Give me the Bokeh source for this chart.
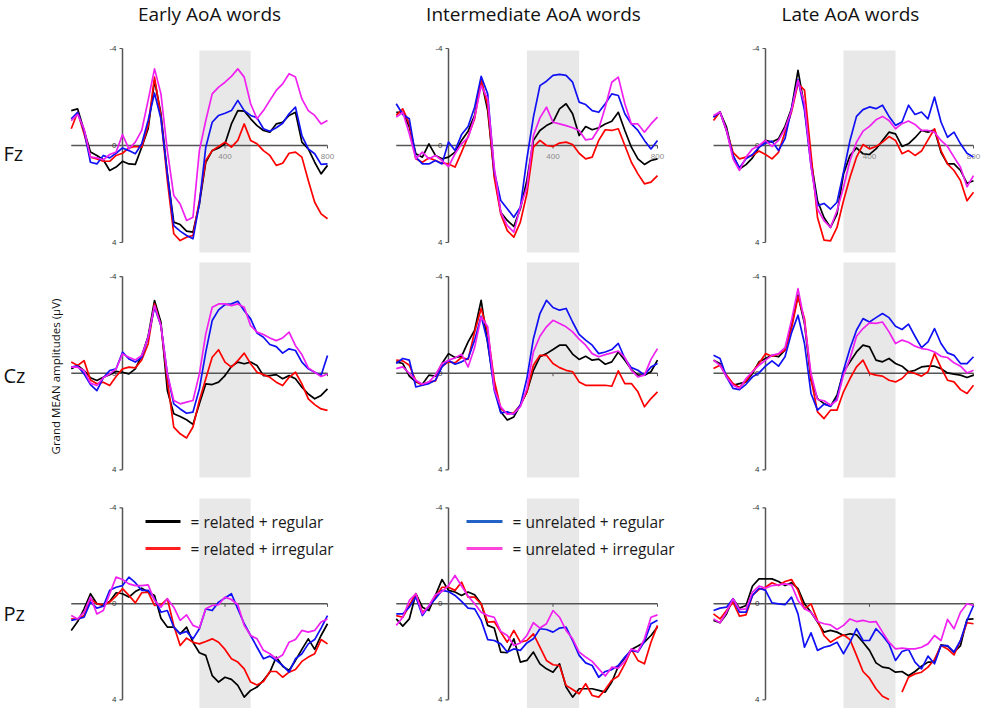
import numpy as np
from bokeh.plotting import figure
from bokeh.layouts import column, row
from bokeh.models import Range1d
from bokeh.core.properties import value
from bokeh.embed import file_html
from bokeh.resources import INLINE

# ---------------- data ----------------
TIME_MS = [-200, -175, -150, -125, -100, -75, -50, -25, 0, 25, 50, 75, 100, 125, 150,
           175, 200, 225, 250, 275, 300, 325, 350, 375, 400, 425, 450, 475, 500, 525,
           550, 575, 600, 625, 650, 675, 700, 725, 750, 775, 800]

COLUMN_TITLES = ["Early AoA words", "Intermediate AoA words", "Late AoA words"]
ROW_LABELS = ["Fz", "Cz", "Pz"]
CONDITIONS = ["related + regular", "related + irregular",
              "unrelated + regular", "unrelated + irregular"]
Y_TICKS = [-4, 0, 4]
Y_TICK_LABELS = ["-4", "0", "4"]
X_TICKS = [400, 800]
X_TICK_LABELS = ["400", "800"]
WINDOW_MS = [300, 500]
Y_LABEL = "Grand MEAN amplitudes (µV)"

# Fz
FZ_EARLY_RR = [-1.44, -1.51, -0.62, 0.27, 0.41, 0.59, 1.03, 0.89, 0.65, 0.76, 0.78, 0.07, -0.69, -2.68, -1.31, 1.17, 3.16, 3.26, 3.53, 3.57, 2.41, 0.69, 0.21, 0.10, -0.07, -0.89, -1.44, -1.42, -1.10, -0.82, -0.62, -0.55, -0.89, -0.96, -1.24, -1.37, -0.14, 0.14, 0.69, 1.17, 0.82]
FZ_EARLY_RI = [-0.69, -1.37, -0.48, 0.48, 0.55, 0.65, 0.65, 0.41, 0.32, 0.10, 0.04, 0.07, -0.82, -2.82, -1.17, 1.44, 3.64, 3.92, 3.78, 3.71, 2.27, 0.62, 0.21, 0.04, -0.14, 0.07, -0.21, -0.89, -0.21, -0.07, 0.21, 0.41, 0.82, 0.73, 0.32, 0.27, 0.48, 1.44, 2.34, 2.82, 3.02]
FZ_EARLY_UR = [-1.10, -1.37, -0.62, 0.69, 0.76, 0.41, 0.51, 0.32, 0.10, 0.21, 0.34, -0.07, -1.03, -2.16, -1.10, 1.17, 3.30, 3.53, 3.71, 3.85, 2.41, 0.07, -0.96, -1.24, -1.33, -1.44, -1.86, -1.44, -1.24, -1.14, -0.69, -0.59, -0.73, -0.92, -1.31, -1.58, -0.41, 0.14, 0.34, 0.78, 0.76]
FZ_EARLY_UI = [-1.03, -1.28, -0.69, 0.48, 0.51, 0.59, 0.37, 0.27, -0.45, 0.14, -0.14, -0.62, -1.86, -3.16, -2.13, 0.21, 2.06, 2.41, 3.09, 2.96, 0.21, -1.03, -2.13, -2.41, -2.61, -2.85, -3.16, -2.82, -1.72, -1.10, -1.44, -1.86, -2.27, -2.54, -2.96, -2.82, -1.92, -1.44, -1.24, -0.89, -1.03]

FZ_INTER_RR = [-1.37, -1.37, -0.76, 0.34, 0.48, -0.07, 0.41, 0.55, 0.48, 0.27, -0.21, -0.59, -1.24, -2.71, -1.44, 1.17, 2.75, 3.09, 3.34, 2.61, 1.44, -0.21, -0.62, -0.82, -0.96, -1.51, -1.72, -1.31, -0.41, -0.78, -0.65, -0.73, -0.89, -1.00, -1.37, -0.62, 0.07, 0.55, 0.78, 0.62, 0.55]
FZ_INTER_RI = [-1.24, -1.51, -0.89, 0.55, 0.69, 0.51, 0.62, 0.73, 0.76, 0.89, 0.27, -0.37, -1.10, -2.71, -1.65, 1.31, 2.82, 3.51, 3.78, 3.16, 1.99, 0.07, -0.21, 0.00, 0.04, -0.10, -0.14, -0.04, 0.32, 0.55, 0.48, -0.21, -0.65, -0.62, -0.69, 0.00, 0.69, 1.17, 1.58, 1.51, 1.24]
FZ_INTER_UR = [-1.72, -1.28, -1.10, 0.48, 0.76, 0.76, 0.62, 0.76, -0.14, 0.21, -0.45, -0.78, -1.58, -2.85, -2.13, 1.06, 2.27, 2.61, 2.96, 2.54, 0.55, -1.17, -2.47, -2.65, -2.89, -2.93, -2.89, -2.61, -1.79, -1.69, -1.44, -1.37, -1.72, -2.13, -2.06, -1.31, -0.89, -0.62, -0.21, 0.14, -0.21]
FZ_INTER_UI = [-1.17, -1.37, -0.48, 0.55, 0.27, 0.55, 0.41, 0.62, 0.87, 0.34, -0.07, -0.32, -1.17, -2.47, -1.92, 0.89, 2.75, 3.30, 3.57, 2.54, 1.72, -0.41, -1.14, -1.58, -0.96, -0.89, -0.82, -0.73, -0.62, -0.23, -0.27, -0.69, -1.58, -2.61, -2.82, -1.72, -0.89, -0.89, -0.55, -0.89, -1.17]

FZ_LATE_RR = [-1.17, -1.38, -0.76, 0.41, 0.97, 0.79, 0.51, 0.07, -0.21, -0.14, -0.28, -0.79, -1.52, -3.10, -1.59, 0.62, 2.28, 2.97, 3.38, 2.83, 1.17, 0.41, 0.10, 0.34, 0.37, 0.14, -0.21, -0.55, -0.48, 0.04, -0.07, -0.32, -0.62, -0.55, -0.65, 0.28, 0.76, 0.76, 1.03, 1.56, 1.45]
FZ_LATE_RI = [-1.03, -1.38, -0.62, 0.28, 0.55, 0.48, 0.41, 0.23, 0.37, 0.55, 0.28, -0.55, -1.38, -2.55, -2.28, 0.34, 2.97, 3.90, 3.93, 3.38, 2.28, 1.31, 0.48, -0.04, 0.14, 0.04, -0.14, -0.37, -0.21, 0.34, 0.21, 0.41, 0.23, -0.23, -0.69, 0.21, 0.76, 1.03, 1.45, 2.28, 1.93]
FZ_LATE_UR = [-1.17, -1.38, -0.62, 0.41, 0.92, 0.55, 0.37, 0.07, -0.10, -0.18, 0.21, -0.28, -1.52, -2.72, -1.45, 0.83, 2.48, 2.39, 2.62, 2.34, 1.10, -0.21, -1.20, -1.48, -1.59, -1.52, -1.66, -1.20, -0.83, -0.97, -1.66, -1.28, -1.38, -1.10, -2.00, -0.97, -0.34, -0.55, -0.07, 0.32, 0.48]
FZ_LATE_UI = [-1.24, -1.38, -0.62, 0.55, 1.03, 0.48, 0.14, 0.00, -0.21, 0.04, -0.21, -0.69, -1.45, -2.69, -1.72, 0.83, 2.62, 3.10, 3.38, 2.69, 1.72, 0.62, -0.14, -0.59, -0.79, -1.06, -1.20, -1.03, -0.69, -0.90, -1.01, -0.87, -0.62, -0.62, -0.55, -0.21, 0.04, 0.48, 0.90, 1.70, 1.24]

# Cz
CZ_EARLY_RR = [-0.18, -0.32, -0.11, 0.19, 0.30, 0.17, 0.06, -0.08, -0.04, 0.03, -0.18, -0.73, -1.52, -3.01, -2.11, 0.72, 1.68, 1.79, 1.93, 2.12, 1.27, 0.44, 0.47, 0.37, 0.10, -0.28, -0.46, -0.39, -0.46, -0.32, 0.10, 0.10, 0.06, 0.23, 0.10, 0.23, 0.58, 0.86, 1.06, 0.92, 0.65]
CZ_EARLY_RI = [-0.46, -0.32, -0.52, 0.28, 0.44, 0.37, 0.51, 0.14, -0.18, -0.25, -0.22, -0.55, -1.21, -2.87, -1.97, 0.30, 2.23, 2.51, 2.68, 2.23, 1.13, 0.23, -0.66, -0.97, -0.46, -0.25, -0.52, -0.83, -0.39, -0.04, 0.06, 0.17, 0.37, 0.51, 0.17, -0.04, 0.44, 1.06, 1.30, 1.48, 1.54]
CZ_EARLY_UR = [-0.25, -0.30, 0.03, 0.47, 0.72, 0.19, -0.11, -0.18, -0.87, -0.59, -0.46, -0.66, -1.49, -2.73, -1.97, 0.03, 1.27, 1.48, 1.66, 1.61, 0.65, -0.87, -2.18, -2.62, -2.84, -2.87, -2.98, -2.59, -2.25, -1.66, -1.49, -1.19, -1.10, -0.83, -1.01, -0.94, -0.46, -0.18, -0.04, 0.10, -0.73]
CZ_EARLY_UI = [-0.25, -0.25, -0.11, 0.41, 0.51, 0.19, 0.03, -0.18, -0.80, -0.66, -0.55, -0.73, -1.49, -2.80, -1.97, 0.03, 1.13, 1.27, 1.20, 1.13, 0.03, -1.63, -2.73, -2.87, -2.87, -2.80, -2.87, -2.73, -1.97, -1.70, -1.60, -1.46, -1.35, -1.46, -1.70, -1.14, -0.77, -0.22, -0.04, 0.14, 0.03]

CZ_INTER_RR = [-0.47, -0.40, 0.12, 0.36, 0.46, 0.08, 0.12, -0.40, -0.81, -0.65, -0.70, -1.30, -1.78, -3.02, -1.23, 0.50, 1.60, 1.94, 1.81, 1.32, 0.77, -0.12, -0.68, -0.81, -0.98, -1.16, -1.16, -0.79, -0.57, -0.70, -0.54, -0.58, -0.37, -0.47, -0.88, -0.54, -0.15, 0.08, 0.08, -0.06, -0.54]
CZ_INTER_RI = [-0.54, -0.51, -0.33, 0.32, 0.50, 0.36, 0.32, -0.29, -0.47, -0.43, -0.65, -0.57, -1.71, -2.68, -1.71, 0.29, 1.46, 1.67, 1.64, 1.32, 0.77, -0.33, -0.74, -0.74, -0.40, -0.23, -0.12, -0.06, 0.36, 0.50, 0.50, 0.50, 0.50, 0.54, -0.10, 0.43, 0.43, 0.77, 1.39, 1.05, 0.77]
CZ_INTER_UR = [-0.40, -0.61, -0.54, 0.57, 0.50, 0.43, 0.29, -0.26, -0.54, -0.37, -0.47, -0.61, -1.37, -2.36, -1.30, 0.70, 1.64, 1.60, 1.70, 1.32, 0.22, -1.43, -2.47, -3.02, -2.72, -2.61, -2.68, -2.12, -1.61, -1.37, -1.16, -0.81, -0.88, -0.98, -1.23, -0.61, -0.23, -0.12, 0.08, -0.26, -0.40]
CZ_INTER_UI = [-0.19, -0.26, 0.01, 0.29, 0.46, 0.36, 0.08, -0.40, -0.54, -0.63, -0.79, -0.26, -1.06, -2.33, -1.92, 0.63, 1.39, 1.70, 1.67, 1.39, 0.63, -0.88, -1.53, -1.92, -2.19, -2.06, -1.92, -1.71, -1.41, -1.16, -0.81, -0.68, -0.77, -0.84, -0.92, -0.65, -0.12, 0.15, 0.08, -0.57, -1.02]

CZ_LATE_RR = [-0.54, -0.40, 0.15, 0.50, 0.43, 0.36, 0.01, -0.47, -0.61, -0.74, -0.68, -0.95, -1.99, -3.23, -2.06, 0.29, 1.05, 1.26, 1.37, 0.91, -0.06, -0.47, -0.88, -1.16, -1.09, -0.54, -0.47, -0.61, -0.40, -0.29, -0.06, -0.12, -0.26, -0.29, -0.29, -0.19, -0.01, 0.04, 0.08, 0.18, 0.08]
CZ_LATE_RI = [-0.19, -0.33, 0.08, 0.43, 0.59, 0.32, -0.06, -0.40, -0.81, -0.70, -0.79, -0.95, -1.85, -3.16, -2.26, 0.22, 1.60, 1.88, 1.53, 1.53, 0.77, 0.22, -0.26, -0.54, 0.01, 0.08, 0.12, 0.29, 0.36, 0.22, -0.06, 0.01, 0.12, -0.06, -0.81, -0.23, 0.29, 0.36, 0.68, 0.84, 0.50]
CZ_LATE_UR = [-0.74, -0.61, 0.15, 0.63, 0.68, 0.46, 0.15, -0.01, -0.29, -0.51, -0.29, -0.68, -1.67, -2.40, -1.23, 0.84, 1.53, 1.28, 1.37, 1.05, -0.12, -1.02, -1.78, -2.26, -2.12, -2.30, -2.47, -2.30, -1.94, -1.81, -2.03, -1.53, -1.06, -1.30, -1.85, -1.23, -0.84, -0.74, -0.40, -0.40, -0.68]
CZ_LATE_UI = [-0.54, -0.33, 0.15, 0.50, 0.63, 0.22, -0.06, -0.33, -0.54, -0.74, -0.81, -1.06, -2.19, -3.50, -2.12, 0.01, 1.09, 1.14, 1.32, 1.12, 0.08, -0.61, -1.53, -1.85, -2.08, -2.06, -2.12, -1.71, -1.23, -1.37, -1.28, -1.12, -1.02, -0.98, -0.88, -0.70, -0.65, -0.43, -0.29, -0.01, -0.12]

# Pz
PZ_EARLY_RR = [1.11, 0.74, 0.21, -0.42, 0.00, 0.07, -0.10, -0.46, -0.42, -0.28, -0.51, -0.65, -0.49, -0.35, 0.60, 0.97, 0.97, 1.25, 0.97, 1.60, 2.04, 2.15, 2.99, 3.26, 3.06, 3.15, 3.40, 3.89, 3.61, 3.47, 3.19, 2.85, 2.22, 2.60, 2.78, 2.36, 1.90, 1.46, 1.90, 1.32, 0.83]
PZ_EARLY_RI = [0.63, 0.65, 0.49, -0.21, 0.00, 0.04, -0.07, -0.32, -0.63, -0.35, -0.04, -0.46, -0.49, 0.07, 0.04, -0.21, 0.90, 1.74, 1.43, 1.60, 1.67, 1.57, 1.46, 1.60, 1.90, 2.29, 2.43, 2.71, 3.26, 3.38, 3.24, 2.82, 2.82, 3.06, 2.85, 2.74, 2.40, 2.22, 2.08, 1.49, 1.67]
PZ_EARLY_UR = [0.69, 0.63, 0.56, -0.07, 0.18, 0.10, -0.56, -0.69, -0.76, -1.11, -0.88, -0.56, -0.56, -0.21, 0.35, 0.28, 0.97, 1.25, 1.15, 1.46, 1.04, 0.21, 0.28, -0.07, -0.24, -0.42, 0.21, 0.83, 1.32, 1.81, 2.29, 2.18, 2.36, 2.57, 2.85, 2.29, 2.08, 1.67, 1.49, 1.01, 0.49]
PZ_EARLY_UI = [0.49, 0.63, 0.35, -0.28, 0.42, 0.28, -0.42, -1.11, -1.01, -0.83, -0.76, -0.76, -0.79, -0.14, 0.14, -0.21, 0.14, 0.69, 0.46, 0.90, 1.01, 0.21, 0.07, 0.04, -0.28, -0.18, 0.04, 0.90, 1.32, 1.46, 1.94, 2.08, 2.29, 2.13, 1.60, 1.49, 1.11, 1.18, 1.11, 0.76, 0.63]

PZ_INTER_RR = [0.63, 0.93, 0.63, -0.42, 0.14, 0.28, -0.35, -1.01, -0.56, -0.49, -0.35, -0.49, -0.38, 0.00, 0.90, 1.01, 2.01, 2.04, 1.46, 2.43, 2.36, 2.01, 2.50, 2.71, 2.85, 2.50, 3.47, 3.89, 3.54, 3.54, 3.54, 3.61, 3.68, 3.26, 2.60, 2.26, 1.90, 1.76, 1.60, 1.32, 0.97]
PZ_INTER_RI = [0.49, 0.56, 0.07, -0.42, 0.35, 0.14, -0.28, -0.69, -0.69, -0.56, -0.90, -0.28, -0.28, 0.00, 0.76, 0.74, 1.18, 1.60, 1.11, 1.60, 1.53, 1.25, 1.81, 2.36, 2.54, 2.57, 3.40, 3.57, 3.75, 3.33, 3.82, 3.89, 3.57, 3.19, 3.01, 2.50, 1.90, 2.36, 2.50, 1.60, 0.90]
PZ_INTER_UR = [0.42, 0.42, 0.14, -0.28, 0.49, 0.10, -0.21, -0.56, -0.51, -0.35, -0.10, 0.18, 0.21, 0.69, 1.49, 1.53, 1.67, 2.01, 1.88, 1.94, 1.63, 1.46, 1.04, 1.07, 1.18, 1.01, 0.97, 1.53, 2.15, 2.46, 2.57, 3.06, 2.82, 2.74, 2.57, 2.22, 1.94, 2.01, 1.57, 0.83, 0.69]
PZ_INTER_UI = [0.90, 0.56, -0.14, -0.42, 0.42, 0.07, -0.38, -0.51, -0.76, -1.18, -0.74, -0.32, 0.00, 0.35, 0.49, 0.56, 1.15, 1.32, 1.74, 1.63, 1.32, 0.79, 1.01, 0.83, 0.28, 0.56, 1.11, 1.46, 2.01, 2.22, 2.40, 2.71, 3.01, 2.64, 2.68, 2.40, 1.88, 1.99, 1.46, 0.56, 0.46]

PZ_LATE_RR = [0.69, 0.79, 0.42, -0.21, 0.18, 0.07, -0.74, -1.04, -1.04, -1.04, -0.93, -0.76, -0.88, -0.63, 0.00, 0.35, 0.76, 1.18, 1.11, 1.18, 1.32, 1.25, 1.29, 1.60, 1.94, 2.46, 2.64, 2.68, 2.85, 2.82, 3.00, 2.82, 2.60, 2.43, 2.43, 1.71, 1.76, 2.01, 1.74, 0.65, 0.63]
PZ_LATE_RI = [0.42, 0.63, 0.28, -0.07, 0.51, 0.46, -0.35, -0.60, -0.69, -0.88, -0.76, -0.93, -1.01, -0.56, 0.21, 0.00, 0.69, 1.32, 1.60, 1.43, 1.29, 1.49, 2.15, 2.82, 3.10, 3.54, 3.85, 3.99, 4.24, 3.68, 3.06, 2.92, 2.85, 2.64, 2.32, 1.74, 1.88, 2.13, 1.53, 0.79, 0.83]
PZ_LATE_UR = [0.28, 0.18, 0.14, -0.21, 0.35, 0.35, -0.35, -0.65, -0.56, -0.04, 0.00, 0.04, -0.28, 0.42, 1.81, 1.21, 1.94, 1.81, 1.74, 1.60, 2.08, 1.60, 1.04, 1.53, 1.53, 1.04, 1.32, 1.67, 2.36, 1.99, 1.90, 2.43, 2.71, 2.18, 2.50, 1.74, 1.74, 2.01, 1.53, 0.69, 0.07]
PZ_LATE_UI = [0.63, 0.79, 0.35, -0.21, 0.24, 0.21, -0.49, -0.74, -0.65, -0.76, -0.79, -0.83, -0.79, -0.14, 0.21, 0.35, 0.74, 0.83, 0.88, 1.07, 0.90, 0.63, 0.74, 0.69, 0.76, 0.74, 1.18, 1.60, 1.88, 1.85, 1.88, 1.88, 1.81, 1.67, 1.32, 1.53, 0.65, 1.04, 0.35, 0.00, 0.07]

PANEL_SERIES = [
    [[FZ_EARLY_RR, FZ_EARLY_RI, FZ_EARLY_UR, FZ_EARLY_UI],
     [FZ_INTER_RR, FZ_INTER_RI, FZ_INTER_UR, FZ_INTER_UI],
     [FZ_LATE_RR, FZ_LATE_RI, FZ_LATE_UR, FZ_LATE_UI]],
    [[CZ_EARLY_RR, CZ_EARLY_RI, CZ_EARLY_UR, CZ_EARLY_UI],
     [CZ_INTER_RR, CZ_INTER_RI, CZ_INTER_UR, CZ_INTER_UI],
     [CZ_LATE_RR, CZ_LATE_RI, CZ_LATE_UR, CZ_LATE_UI]],
    [[PZ_EARLY_RR, PZ_EARLY_RI, PZ_EARLY_UR, PZ_EARLY_UI],
     [PZ_INTER_RR, PZ_INTER_RI, PZ_INTER_UR, PZ_INTER_UI],
     [PZ_LATE_RR, PZ_LATE_RI, PZ_LATE_UR, PZ_LATE_UI]],
]

# ---------------- layout / style ----------------
# page-pixel geometry: (left, right, x of t=0, px per ms)
COL_GEOM = [(0, 340, 122.0, 0.25625), (340, 700, 448.0, 0.26125), (700, 996, 765.0, 0.26)]
# (top, bottom, y of 0 uV, px per uV)
ROW_GEOM = [(0, 258, 145.0, 24.25), (258, 490, 372.7, 24.15), (490, 708, 603.3, 24.0)]
BAND_PX = [(50, 252), (262, 477), (498, 708)]
TITLE_CX = [209, 533, 850]
TITLE_CY = 13.5
ROW_LABEL_CY = [153, 375, 613]
TRACE_COLORS = ["#000000", "#ff0000", "#1010f5", "#f020f0"]
LEGEND_COLORS = ["#000000", "#ff1f1f", "#2262c6", "#ff44dc"]
AXIS_COLOR = "#555555"
FONT = value("Open Sans")
TICK_FONT = value("Liberation Sans")

figs = []
for ri in range(3):
    fig_row = []
    for ci in range(3):
        l, r, x0, sx = COL_GEOM[ci]
        t, b, y0, sy = ROW_GEOM[ri]

        def fx(px):
            return (px - x0) / sx

        def fy(py):
            return (py - y0) / sy

        p = figure(width=r - l, height=b - t,
                   x_range=Range1d(fx(l), fx(r)), y_range=Range1d(fy(b), fy(t)),
                   x_axis_type=None, y_axis_type=None, toolbar_location=None,
                   output_backend="svg", min_border=0, title=None)
        p.outline_line_color = None
        p.grid.visible = False
        p.background_fill_color = "white"
        p.border_fill_color = "white"

        # analysis window
        bt, bb = BAND_PX[ri]
        p.quad(left=[WINDOW_MS[0]], right=[WINDOW_MS[1]], top=[fy(bt)], bottom=[fy(bb)],
               fill_color="#e8e8e8", line_color=None)

        # axes
        p.segment(x0=[0], y0=[Y_TICKS[0]], x1=[0], y1=[Y_TICKS[-1]],
                  line_color=AXIS_COLOR, line_width=1.5)
        p.segment(x0=[TIME_MS[0]], y0=[0], x1=[TIME_MS[-1]], y1=[0],
                  line_color=AXIS_COLOR, line_width=1.5)
        tk = 3.0 / sx
        p.segment(x0=[-tk] * 2, y0=[Y_TICKS[0], Y_TICKS[-1]], x1=[0, 0],
                  y1=[Y_TICKS[0], Y_TICKS[-1]], line_color=AXIS_COLOR, line_width=1.2)
        tky = 3.0 / sy
        p.segment(x0=X_TICKS, y0=[0] * len(X_TICKS), x1=X_TICKS, y1=[tky] * len(X_TICKS),
                  line_color=AXIS_COLOR, line_width=1.0)
        p.text(x=[-6.0 / sx] * 3, y=Y_TICKS, text=Y_TICK_LABELS, text_font=TICK_FONT,
               text_font_size="8px", text_color="#333333", text_align="right",
               text_baseline="middle")
        if ri == 0:
            p.text(x=X_TICKS, y=[11.0 / sy] * 2, text=X_TICK_LABELS, text_font=TICK_FONT,
                   text_font_size="8px", text_color="#8a8a8a", text_align="center",
                   text_baseline="middle")

        # waveforms
        for si, vals in enumerate(PANEL_SERIES[ri][ci]):
            ys = np.array(vals, dtype=float)
            ys[np.abs(ys) > 4.0] = np.nan   # clipped at the panel edge
            p.line(TIME_MS, ys, line_color=TRACE_COLORS[si], line_width=1.7,
                   line_join="round")

        # column titles
        if ri == 0:
            p.text(x=[fx(TITLE_CX[ci])], y=[fy(TITLE_CY)], text=[COLUMN_TITLES[ci]],
                   text_font=FONT, text_font_size="19px", text_color="#111111",
                   text_align="center", text_baseline="middle")
        # row labels and y label
        if ci == 0:
            p.text(x=[fx(3)], y=[fy(ROW_LABEL_CY[ri])], text=[ROW_LABELS[ri]],
                   text_font=FONT, text_font_size="20px", text_color="#111111",
                   text_align="left", text_baseline="middle")
            if ri == 1:
                p.text(x=[fx(55)], y=[fy(376)], text=[Y_LABEL], angle=np.pi / 2,
                       text_font=FONT, text_font_size="11.5px", text_color="#111111",
                       text_align="center", text_baseline="middle")
        # legend
        if ri == 2 and ci in (0, 1):
            idx = [0, 1] if ci == 0 else [2, 3]
            lx0, lx1, tx = (145, 180, 190) if ci == 0 else (466, 502, 512)
            for k, si in enumerate(idx):
                yy = fy(521 + 27 * k)
                p.segment(x0=[fx(lx0)], y0=[yy], x1=[fx(lx1)], y1=[yy],
                          line_color=LEGEND_COLORS[si], line_width=3)
                p.text(x=[fx(tx)], y=[yy], text=["= " + CONDITIONS[si]],
                       text_font=FONT, text_font_size="15.5px", text_color="#1a1a1a",
                       text_align="left", text_baseline="middle")
        fig_row.append(p)
    figs.append(row(*fig_row))

layout = column(*figs)
open("out.html", "w").write(file_html(layout, INLINE))
